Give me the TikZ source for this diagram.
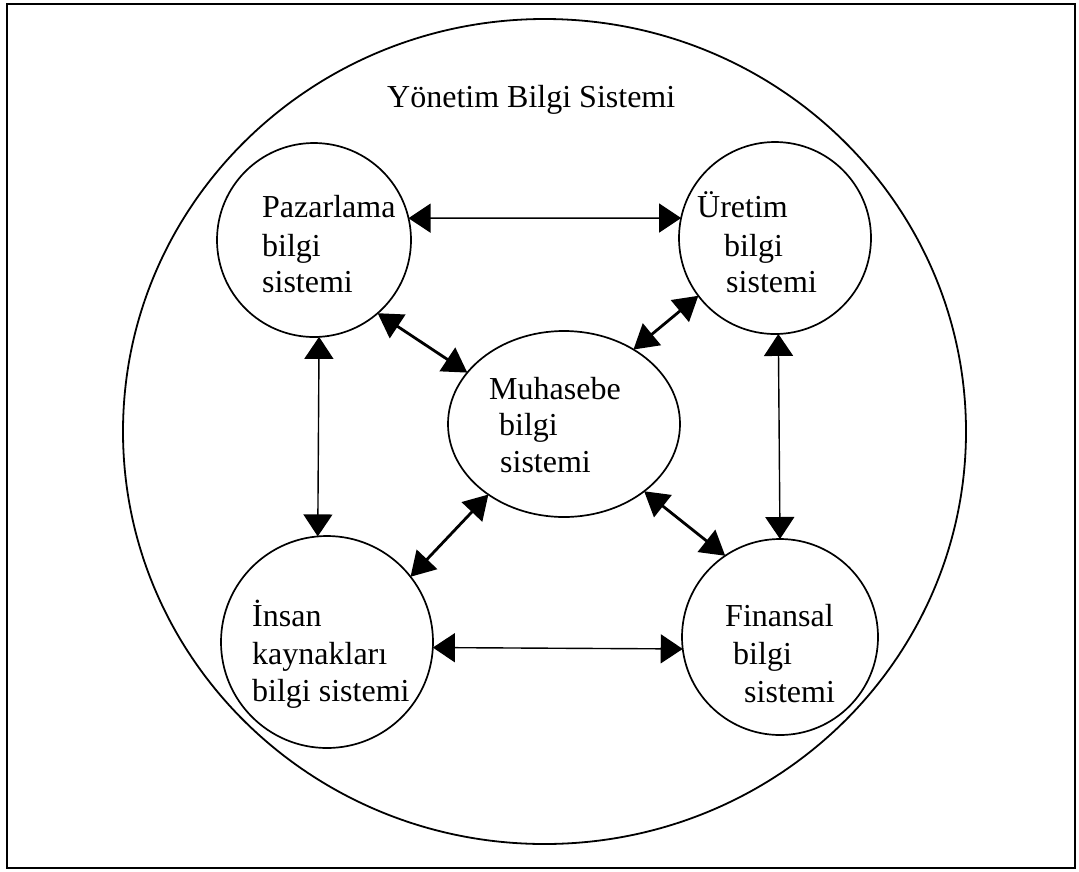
\documentclass[tikz,border=0pt]{standalone}
\usepackage{fontspec}
\setmainfont{Liberation Serif}
\usetikzlibrary{shapes.geometric,arrows.meta}
\begin{document}
\begin{tikzpicture}[x=1pt,y=-1pt,
  sys/.style={circle,draw,line width=1.7pt,inner sep=0pt,outer sep=0pt},
  lbl/.style={anchor=base west,inner sep=0pt,font=\fontsize{32}{37}\selectfont},
  link/.style={{Triangle[length=22pt,width=29pt]}-{Triangle[length=22pt,width=29pt]},line width=1.4pt},
  diag/.style={{Triangle[length=24pt,width=28pt]}-{Triangle[length=24pt,width=28pt]},line width=2.8pt}]
\useasboundingbox (0,0) rectangle (1079,871);

% outer frame
\draw[line width=1.6pt] (7,4) rectangle (1075,868);

% management information system boundary
\node[ellipse,draw,line width=1.8pt,minimum width=843pt,minimum height=825pt,
      inner sep=0pt,outer sep=0pt] (ybs) at (544.5,431.5) {};
\node[lbl] (ybsT) at (387,107) {Yönetim Bilgi Sistemi};

% subsystems
\node[sys,minimum size=194pt] (paz) at (314,240) {};
\node[sys,minimum size=192pt] (ure) at (775,238) {};
\node[ellipse,draw,line width=1.7pt,inner sep=0pt,outer sep=0pt,
      minimum width=232pt,minimum height=186pt] (muh) at (564,424) {};
\node[sys,minimum size=212pt] (ins) at (327,642) {};
\node[sys,minimum size=196pt] (fin) at (780,637) {};

% labels
\node[lbl] (paz1) at (262,217) {Pazarlama};
\node[lbl] (paz2) at (262,256) {bilgi};
\node[lbl] (paz3) at (262,292) {sistemi};

\node[lbl] (ure1) at (697,217) {Üretim};
\node[lbl] (ure2) at (724,256) {bilgi};
\node[lbl] (ure3) at (726,292) {sistemi};

\node[lbl] (muh1) at (489,399) {Muhasebe};
\node[lbl] (muh2) at (499,435) {bilgi};
\node[lbl] (muh3) at (500,472) {sistemi};

\node[lbl] (ins1) at (252,626) {İnsan};
\node[lbl] (ins2) at (252,664) {kaynakları};
\node[lbl] (ins3) at (252,701) {bilgi sistemi};

\node[lbl] (fin1) at (725,626) {Finansal};
\node[lbl] (fin2) at (733,664) {bilgi};
\node[lbl] (fin3) at (744,702) {sistemi};

% information flows
\draw[link] (paz.13) -- (ure.168);
\draw[link] (ins.-3) -- (fin.187);
\draw[link] (paz.-87) -- (ins.95);
\draw[link] (ure.-88) -- (fin.90);
\draw[diag] (paz.-49) -- (muh.152.5);
\draw[diag] (ure.217.7) -- (muh.47.5);
\draw[diag] (ins.38.9) -- (muh.223.4);
\draw[diag] (fin.124.8) -- (muh.-40.5);
\end{tikzpicture}
\end{document}
